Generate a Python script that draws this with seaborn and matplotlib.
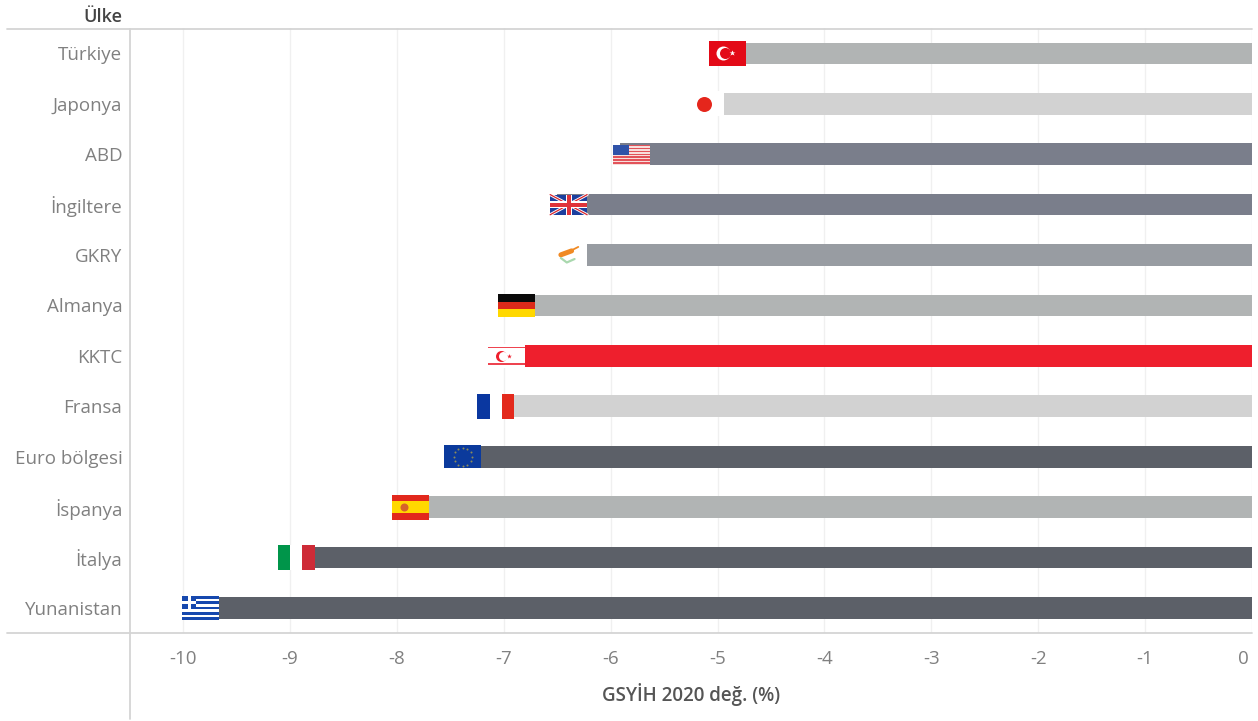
import matplotlib.pyplot as plt
from matplotlib.lines import Line2D
from matplotlib.patches import Rectangle
from matplotlib.transforms import ScaledTranslation
import numpy as np
import pandas as pd
import seaborn as sns

countries = ["Türkiye", "Japonya", "ABD", "İngiltere", "GKRY", "Almanya", "KKTC",
             "Fransa", "Euro bölgesi", "İspanya", "İtalya", "Yunanistan"]
gdp_change = [-5.01, -5.22, -5.91, -6.50, -6.50, -6.99, -7.08, -7.18, -7.49, -7.98, -9.05, -9.94]
bar_colors = ["#b1b4b4", "#d2d2d2", "#7a7e8b", "#7a7e8b", "#989ca2", "#b1b4b4", "#ee1f2d",
              "#d2d2d2", "#5c6068", "#b1b4b4", "#5c6068", "#5c6068"]
x_ticks = [-10, -9, -8, -7, -6, -5, -4, -3, -2, -1, 0]
flag_heights = [0.49, 0.49, 0.38, 0.40, 0.49, 0.44, 0.46, 0.49, 0.46, 0.49, 0.49, 0.48]

W, H = 1258, 721
LEFT, RIGHT, TOP, BOTTOM = 130, 1252, 29, 633
FLAG_W = 37 / 106.9
FLAG_SHIFT = 7 / 106.9
LINE = "#d4d4d4"
TICK_GREY = "#808080"

df = pd.DataFrame({"country": countries, "gdp": gdp_change})

sns.set_style("white")
plt.rcParams["font.family"] = ["Open Sans", "DejaVu Sans"]

fig = plt.figure(figsize=(W / 100, H / 100), dpi=100)
ax = fig.add_axes([LEFT / W, 1 - 633.2 / H, (RIGHT - LEFT) / W, (633.2 - 28.2) / H])

sns.barplot(data=df, y="country", x="gdp", hue="country", palette=bar_colors,
            width=0.43, saturation=1, legend=False, linewidth=0, ax=ax, zorder=2)


def draw_flag(name, value, row, height):
    left = value - FLAG_SHIFT
    top = row - height / 2

    def rect(fx, fy, fw, fh, color, z=3):
        ax.add_patch(Rectangle((left + fx * FLAG_W, top + fy * height), fw * FLAG_W, fh * height,
                               facecolor=color, edgecolor="none", zorder=z))

    def dot(fx, fy, px, color, marker="o"):
        ax.plot(left + fx * FLAG_W, top + fy * height, marker=marker, ms=px * 0.72, color=color,
                mec="none", zorder=4)

    def stroke(fxs, fys, color, lw):
        ax.plot([left + f * FLAG_W for f in fxs], [top + f * height for f in fys], color=color, lw=lw,
                zorder=4, solid_capstyle="round")

    if name == "Türkiye":
        rect(0, 0, 1, 1, "#e30a17")
        dot(0.38, 0.5, 14, "white")
        dot(0.43, 0.5, 11, "#e30a17")
        dot(0.6, 0.5, 6, "white", "*")
    elif name == "Japonya":
        rect(0, 0, 1, 1, "white")
        dot(0.47, 0.5, 15, "#e5261c")
    elif name == "ABD":
        for i in range(7):
            rect(0, i * 2 / 13, 1, 1 / 13, "#e2535a")
            rect(0, (i * 2 + 1) / 13, 1, 1 / 13, "#f7dfdc")
        rect(0, 0, 0.42, 0.52, "#2f52a8")
    elif name == "İngiltere":
        rect(0, 0, 1, 1, "#1c3f9e")
        stroke([0, 1], [0, 1], "white", 2.2)
        stroke([0, 1], [1, 0], "white", 2.2)
        stroke([0, 1], [0, 1], "#d8232a", 0.9)
        stroke([0, 1], [1, 0], "#d8232a", 0.9)
        rect(0, 0.32, 1, 0.36, "white", z=5)
        rect(0.42, 0, 0.16, 1, "white", z=5)
        rect(0, 0.4, 1, 0.2, "#e0333a", z=5)
        rect(0.45, 0, 0.1, 1, "#e0333a", z=5)
    elif name == "GKRY":
        rect(0, 0, 1, 1, "white")
        stroke([0.29, 0.58], [0.49, 0.33], "#f08a24", 3.6)
        stroke([0.55, 0.76], [0.33, 0.17], "#f08a24", 1.3)
        stroke([0.29, 0.45, 0.66], [0.62, 0.80, 0.66], "#a9d8ae", 1.6)
    elif name == "Almanya":
        rect(0, 0, 1, 1 / 3, "#0a0a0a")
        rect(0, 1 / 3, 1, 1 / 3, "#dd2a1a")
        rect(0, 2 / 3, 1, 1 / 3, "#ffd800")
    elif name == "KKTC":
        rect(0, 0, 1, 1, "white")
        rect(0, 0.1, 1, 0.08, "#ee4450")
        rect(0, 0.82, 1, 0.08, "#ee4450")
        dot(0.36, 0.5, 11, "#ee1f2d")
        dot(0.41, 0.5, 9, "white")
        dot(0.56, 0.5, 5, "#ee1f2d", "*")
    elif name == "Fransa":
        rect(0, 0, 1 / 3, 1, "#0a37a0")
        rect(1 / 3, 0, 1 / 3, 1, "white")
        rect(2 / 3, 0, 1 / 3, 1, "#e3291c")
    elif name == "Euro bölgesi":
        rect(0, 0, 1, 1, "#0b3a9c")
        for angle in np.arange(12) * np.pi / 6:
            dot(0.5 + 9 / 37 * np.cos(angle), 0.5 + 9 / 23 * np.sin(angle), 2, "#8c8c5a")
    elif name == "İspanya":
        rect(0, 0, 1, 1, "#e2281c")
        rect(0, 0.25, 1, 0.5, "#ffd800")
        dot(0.33, 0.5, 8, "#d6622a")
    elif name == "İtalya":
        rect(0, 0, 1 / 3, 1, "#00954a")
        rect(1 / 3, 0, 1 / 3, 1, "white")
        rect(2 / 3, 0, 1 / 3, 1, "#ce2b37")
    elif name == "Yunanistan":
        for i in range(9):
            rect(0, i / 9, 1, 1 / 9, "#1648ae" if i % 2 == 0 else "white")
        rect(0, 0, 0.37, 5 / 9, "#1648ae")
        rect(0.145, 0, 0.08, 5 / 9, "white")
        rect(0, 2 / 9, 0.37, 1 / 9, "white")


for row, (name, value, h) in enumerate(zip(countries, gdp_change, flag_heights)):
    draw_flag(name, value, row, h)

ax.set_xlim(-10 - 53 / 106.9, 0)
ax.set_ylim(11.5, -0.5)
ax.set_xticks(x_ticks)
ax.set_xticklabels([str(t) for t in x_ticks])
ax.xaxis.grid(True, color="#f0f0f0", lw=1, zorder=0)
ax.yaxis.grid(False)
ax.set_axisbelow(True)
sns.despine(ax=ax, left=True, bottom=True, top=True, right=True)
ax.set_xlabel("")
ax.set_ylabel("")
ax.tick_params(axis="x", length=7, width=1, color="#f0f0f0", labelsize=13.5, labelcolor=TICK_GREY, pad=5)
ax.tick_params(axis="y", length=0, labelsize=13.5, labelcolor=TICK_GREY, pad=5.5)

zero_label = ax.get_xticklabels()[-1]
zero_label.set_ha("right")
zero_label.set_transform(zero_label.get_transform() + ScaledTranslation(-3 / 100, 0, fig.dpi_scale_trans))

fig.add_artist(Line2D([7 / W, RIGHT / W], [1 - TOP / H] * 2, color=LINE, lw=1.3))
fig.add_artist(Line2D([7 / W, RIGHT / W], [1 - BOTTOM / H] * 2, color=LINE, lw=1.3))
fig.add_artist(Line2D([LEFT / W] * 2, [1 - TOP / H, 1 - 719 / H], color=LINE, lw=1.3))

fig.text(122 / W, 1 - 17 / H, "Ülke", ha="right", va="center", fontsize=13, fontweight="semibold", color="#444444")
fig.text(691 / W, 1 - 695 / H, "GSYİH 2020 değ. (%)", ha="center", va="center", fontsize=13.5,
         fontweight="semibold", color="#555555")

fig.savefig("out.png", dpi=100)
plt.close(fig)
